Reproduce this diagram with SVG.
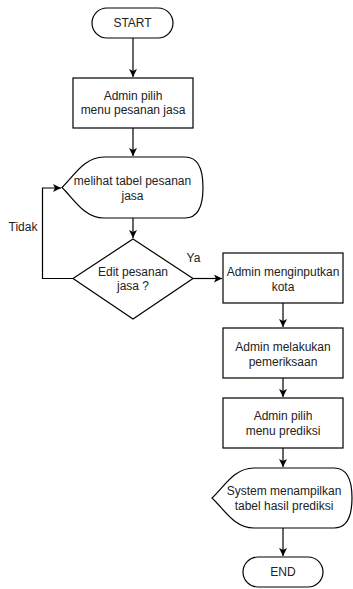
<svg xmlns="http://www.w3.org/2000/svg" width="353" height="589" viewBox="0 0 353 589">
<style>
.s{fill:#fff;stroke:#000;stroke-width:1.2}
.c{fill:none;stroke:#000;stroke-width:1.2}
text{font-family:"Liberation Sans",Arial,sans-serif;font-size:12px;fill:#222;text-anchor:middle;dominant-baseline:central}
</style>
<defs>
<marker id="a" markerUnits="userSpaceOnUse" markerWidth="10" markerHeight="10" refX="8" refY="4" orient="auto">
<path d="M0,0 L8,4 L0,8 L2,4 Z" fill="#000"/>
</marker>
</defs>
<rect width="353" height="589" fill="#fff"/>
<g id="connectors">
<line class="c" x1="133" y1="38" x2="133" y2="77" marker-end="url(#a)"/>
<line class="c" x1="133" y1="128" x2="133" y2="156" marker-end="url(#a)"/>
<line class="c" x1="133" y1="218" x2="133" y2="238" marker-end="url(#a)"/>
<polyline class="c" points="73,278.5 42.5,278.5 42.5,188 61,188" marker-end="url(#a)"/>
<line class="c" x1="193" y1="278.5" x2="222" y2="278.5" marker-end="url(#a)"/>
<line class="c" x1="283" y1="303" x2="283" y2="327" marker-end="url(#a)"/>
<line class="c" x1="283" y1="378" x2="283" y2="397" marker-end="url(#a)"/>
<line class="c" x1="283" y1="448" x2="283" y2="467" marker-end="url(#a)"/>
<line class="c" x1="283" y1="528" x2="283" y2="556" marker-end="url(#a)"/>
<text x="23" y="227">Tidak</text>
<text x="193.5" y="258">Ya</text>
</g>
<g id="start">
<rect class="s" x="92" y="8" width="81" height="30" rx="15"/>
<text x="132.5" y="23">START</text>
</g>
<g id="pilih-menu-pesanan">
<rect class="s" x="73" y="78" width="120" height="50"/>
<text x="133" y="96">Admin pilih</text>
<text x="133" y="110">menu pesanan jasa</text>
</g>
<g id="melihat-tabel">
<path class="s" d="M62,187.5 C74,176 84,157 104,157 L185,157 Q203,157 203,187.5 Q203,218 185,218 L104,218 C84,218 74,199 62,187.5 Z"/>
<text x="132.5" y="181">melihat tabel pesanan</text>
<text x="132.5" y="195.5">jasa</text>
</g>
<g id="edit-pesanan">
<path class="s" d="M133,239 L193,278.5 L133,319 L73,278.5 Z"/>
<text x="133" y="271.5">Edit pesanan</text>
<text x="133" y="286">jasa ?</text>
</g>
<g id="menginputkan-kota">
<rect class="s" x="223" y="253" width="120" height="50"/>
<text x="283" y="271.5">Admin menginputkan</text>
<text x="283" y="286.5">kota</text>
</g>
<g id="pemeriksaan">
<rect class="s" x="223" y="328" width="120" height="50"/>
<text x="283" y="346.5">Admin melakukan</text>
<text x="283" y="361.5">pemeriksaan</text>
</g>
<g id="menu-prediksi">
<rect class="s" x="223" y="398" width="120" height="50"/>
<text x="283" y="416">Admin pilih</text>
<text x="283" y="430.5">menu prediksi</text>
</g>
<g id="tabel-hasil">
<path class="s" d="M212,498 C224,487 234,468 254,468 L334,468 Q352,468 352,498 Q352,528 334,528 L254,528 C234,528 224,509 212,498 Z"/>
<text x="284" y="490.5">System menampilkan</text>
<text x="284" y="505.5">tabel hasil prediksi</text>
</g>
<g id="end">
<rect class="s" x="243" y="557" width="80" height="30" rx="15"/>
<text x="283" y="572">END</text>
</g>
</svg>
